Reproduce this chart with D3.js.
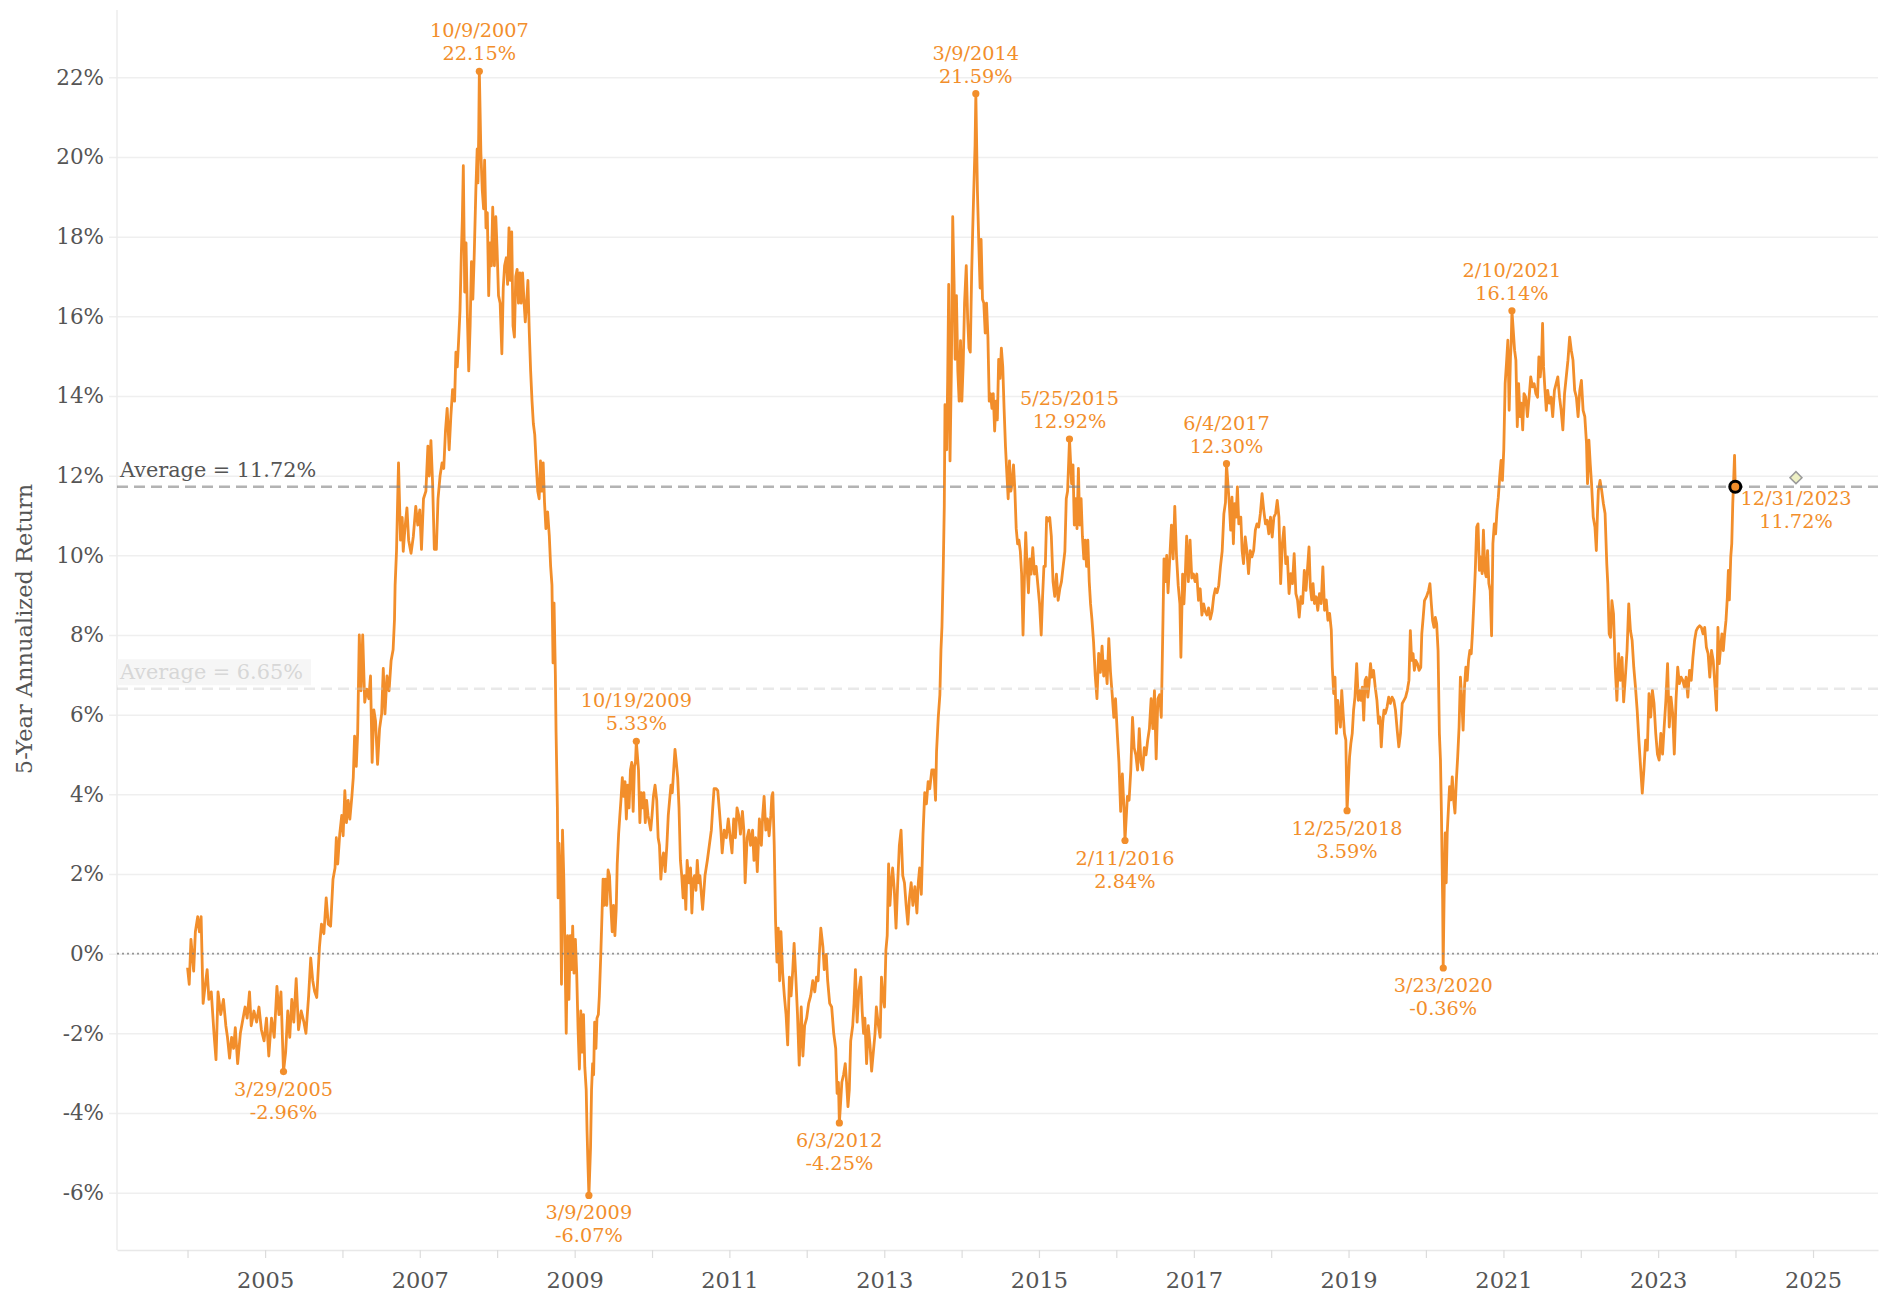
<!DOCTYPE html>
<html><head><meta charset="utf-8">
<script src="https://cdn.jsdelivr.net/npm/d3@7"></script>
<style>html,body{margin:0;padding:0;background:#fff;} svg{display:block;}</style>
</head><body><svg id="chart" width="1888" height="1296"></svg>
<script>
// ---- data: decimal year of each observation and its 5-year annualized return (%)
const years = [
2004.000,2004.022,2004.044,2004.079,2004.101,2004.131,2004.153,2004.175,2004.201,2004.223,
2004.253,2004.275,2004.306,2004.341,2004.367,2004.393,2004.428,2004.463,2004.494,2004.515,
2004.542,2004.568,2004.594,2004.616,2004.646,2004.681,2004.716,2004.742,2004.769,2004.799,
2004.821,2004.856,2004.891,2004.921,2004.952,2004.987,2005.018,2005.048,2005.083,2005.118,
2005.153,2005.179,2005.205,2005.238,2005.266,2005.293,2005.319,2005.345,2005.371,2005.402,
2005.432,2005.467,2005.502,2005.528,2005.563,2005.590,2005.616,2005.642,2005.668,2005.703,
2005.729,2005.760,2005.790,2005.817,2005.847,2005.878,2005.904,2005.921,2005.939,2005.965,
2005.991,2006.009,2006.031,2006.052,2006.074,2006.096,2006.122,2006.140,2006.157,2006.179,
2006.197,2006.218,2006.240,2006.262,2006.288,2006.314,2006.341,2006.363,2006.384,2006.406,
2006.428,2006.454,2006.480,2006.507,2006.528,2006.550,2006.576,2006.603,2006.629,2006.655,
2006.673,2006.681,2006.699,2006.725,2006.751,2006.773,2006.786,2006.808,2006.834,2006.856,
2006.887,2006.917,2006.948,2006.974,2007.000,2007.022,2007.048,2007.079,2007.105,2007.122,
2007.144,2007.166,2007.188,2007.214,2007.236,2007.262,2007.288,2007.310,2007.332,2007.354,
2007.380,2007.402,2007.424,2007.450,2007.467,2007.485,2007.502,2007.520,2007.537,2007.550,
2007.563,2007.581,2007.598,2007.616,2007.633,2007.651,2007.668,2007.686,2007.703,2007.725,
2007.742,2007.752,2007.762,2007.770,2007.790,2007.808,2007.825,2007.838,2007.856,2007.873,
2007.891,2007.908,2007.926,2007.943,2007.965,2007.983,2008.000,2008.018,2008.039,2008.061,
2008.079,2008.096,2008.118,2008.135,2008.153,2008.170,2008.188,2008.205,2008.223,2008.240,
2008.258,2008.275,2008.293,2008.310,2008.328,2008.345,2008.363,2008.380,2008.397,2008.415,
2008.432,2008.450,2008.467,2008.485,2008.502,2008.524,2008.542,2008.559,2008.576,2008.594,
2008.611,2008.629,2008.651,2008.673,2008.690,2008.707,2008.721,2008.734,2008.751,2008.760,
2008.777,2008.786,2008.799,2008.817,2008.830,2008.843,2008.860,2008.873,2008.891,2008.908,
2008.926,2008.943,2008.961,2008.974,2008.991,2009.009,2009.026,2009.044,2009.061,2009.079,
2009.096,2009.114,2009.131,2009.149,2009.160,2009.172,2009.184,2009.205,2009.218,2009.232,
2009.245,2009.258,2009.275,2009.288,2009.306,2009.319,2009.336,2009.354,2009.367,2009.380,
2009.397,2009.415,2009.432,2009.450,2009.467,2009.485,2009.502,2009.520,2009.537,2009.550,
2009.568,2009.581,2009.598,2009.616,2009.633,2009.651,2009.668,2009.686,2009.703,2009.721,
2009.738,2009.756,2009.773,2009.786,2009.797,2009.825,2009.843,2009.860,2009.878,2009.895,
2009.913,2009.930,2009.948,2009.965,2009.983,2010.000,2010.018,2010.039,2010.061,2010.079,
2010.096,2010.114,2010.131,2010.149,2010.170,2010.192,2010.210,2010.227,2010.245,2010.262,
2010.280,2010.297,2010.314,2010.332,2010.349,2010.367,2010.384,2010.402,2010.419,2010.437,
2010.454,2010.476,2010.498,2010.515,2010.533,2010.550,2010.568,2010.585,2010.603,
2010.619,2010.654,2010.685,2010.715,2010.741,2010.767,2010.785,2010.802,2010.829,2010.850,
2010.872,2010.890,2010.907,2010.933,2010.960,2010.986,2011.012,2011.034,2011.056,2011.078,
2011.099,2011.121,2011.143,2011.169,2011.187,2011.204,2011.230,2011.252,2011.274,2011.300,
2011.318,2011.340,2011.361,2011.388,2011.414,2011.431,2011.449,2011.471,2011.492,2011.514,
2011.536,2011.549,2011.562,2011.580,2011.597,2011.615,2011.632,2011.650,2011.667,2011.689,
2011.711,2011.733,2011.754,2011.776,2011.798,2011.820,2011.837,2011.859,2011.881,2011.903,
2011.929,2011.951,2011.973,2011.999,2012.025,2012.051,2012.078,2012.104,2012.126,2012.147,
2012.165,2012.182,2012.209,2012.226,2012.252,2012.270,2012.296,2012.322,2012.348,2012.374,
2012.392,2012.409,2012.421,2012.453,2012.475,2012.497,2012.514,2012.532,2012.549,2012.567,
2012.593,2012.610,2012.628,2012.650,2012.671,2012.698,2012.715,2012.733,2012.750,2012.772,
2012.794,2012.816,2012.837,2012.859,2012.881,2012.898,2012.925,2012.947,2012.964,2012.981,
2013.003,2013.021,2013.038,2013.056,2013.073,2013.091,2013.108,2013.130,2013.152,2013.174,
2013.195,2013.217,2013.239,2013.261,2013.283,2013.305,2013.326,2013.348,2013.370,2013.396,
2013.422,2013.440,2013.457,2013.479,2013.501,2013.523,2013.545,2013.567,2013.588,2013.615,
2013.641,2013.663,2013.676,2013.698,2013.719,2013.733,2013.746,2013.763,2013.776,2013.785,
2013.807,2013.820,2013.833,2013.850,2013.868,2013.885,2013.903,2013.916,2013.933,2013.951,
2013.968,2013.986,2014.003,2014.021,2014.038,2014.060,2014.078,2014.095,2014.112,2014.130,
2014.143,2014.156,2014.174,2014.184,2014.204,2014.222,2014.239,2014.252,2014.270,2014.287,
2014.305,2014.322,2014.340,2014.357,2014.374,2014.392,2014.409,2014.427,2014.444,2014.462,
2014.479,2014.497,2014.514,2014.532,2014.549,2014.567,2014.584,2014.602,2014.619,2014.636,
2014.654,2014.671,2014.689,2014.706,2014.724,2014.741,2014.759,2014.776,2014.794,2014.811,
2014.829,2014.846,2014.864,2014.881,2014.898,2014.920,2014.942,2014.964,2014.986,2015.008,
2015.029,2015.047,2015.064,2015.082,2015.099,2015.117,2015.139,2015.160,2015.182,2015.204,
2015.226,2015.248,2015.270,2015.291,2015.313,2015.335,2015.353,2015.370,2015.385,2015.395,
2015.422,2015.440,2015.457,2015.475,2015.492,2015.510,2015.527,2015.545,2015.562,2015.580,
2015.597,2015.615,2015.632,2015.650,2015.667,2015.685,2015.706,2015.728,2015.750,2015.772,
2015.794,2015.816,2015.837,2015.859,2015.881,2015.903,2015.925,2015.947,2015.968,2015.990,
2016.012,2016.034,2016.056,2016.078,2016.099,2016.112,2016.143,2016.165,2016.187,2016.209,
2016.230,2016.252,2016.274,2016.296,2016.318,2016.340,2016.361,2016.383,2016.405,2016.427,
2016.449,2016.471,2016.492,2016.514,2016.536,2016.558,2016.580,2016.602,2016.615,2016.632,
2016.650,2016.667,2016.689,2016.711,2016.733,2016.754,2016.776,2016.798,2016.820,2016.833,
2016.855,2016.872,2016.890,2016.907,2016.929,2016.951,2016.973,2016.995,2017.016,2017.038,
2017.060,2017.082,2017.104,2017.126,2017.147,2017.169,2017.191,2017.213,2017.235,2017.257,
2017.278,2017.300,2017.322,2017.344,2017.366,2017.388,2017.409,2017.422,
2017.458,2017.476,2017.493,2017.511,2017.528,2017.546,2017.563,2017.581,2017.607,2017.624,
2017.642,2017.664,2017.685,2017.707,2017.729,2017.751,2017.773,2017.795,2017.816,2017.838,
2017.860,2017.882,2017.904,2017.926,2017.947,2017.969,2017.991,2018.013,2018.035,2018.057,
2018.078,2018.100,2018.122,2018.144,2018.166,2018.188,2018.209,2018.231,2018.253,2018.275,
2018.297,2018.319,2018.340,2018.362,2018.384,2018.406,2018.428,2018.450,2018.471,2018.489,
2018.506,2018.524,2018.541,2018.559,2018.581,2018.602,2018.624,2018.646,2018.668,2018.690,
2018.712,2018.733,2018.755,2018.777,2018.790,2018.808,2018.825,2018.843,2018.860,2018.877,
2018.895,2018.912,2018.930,2018.947,2018.965,2018.975,2018.981,2019.013,2019.030,2019.048,
2019.065,2019.083,2019.105,2019.126,2019.144,2019.161,2019.179,2019.196,2019.214,2019.231,
2019.249,2019.266,2019.284,2019.301,2019.323,2019.345,2019.367,2019.388,2019.406,2019.423,
2019.441,2019.458,2019.476,2019.498,2019.519,2019.541,2019.563,2019.585,2019.607,2019.629,
2019.650,2019.672,2019.694,2019.716,2019.738,2019.760,2019.781,2019.799,2019.816,2019.834,
2019.851,2019.869,2019.891,2019.912,2019.934,2019.947,2019.965,2019.982,2020.008,2020.035,
2020.052,2020.070,2020.087,2020.105,2020.122,2020.139,2020.157,2020.174,2020.188,2020.201,
2020.208,2020.216,2020.223,2020.240,2020.249,2020.262,2020.275,2020.292,2020.305,2020.323,
2020.340,2020.358,2020.375,2020.393,2020.410,2020.428,2020.445,2020.463,2020.480,2020.498,
2020.515,2020.533,2020.550,2020.567,2020.585,2020.602,2020.620,2020.637,2020.655,2020.672,
2020.690,2020.707,2020.725,2020.742,2020.760,2020.777,2020.795,2020.812,2020.829,2020.847,
2020.864,2020.882,2020.899,2020.917,2020.934,2020.952,2020.969,2020.987,2021.004,2021.022,
2021.039,2021.057,2021.074,2021.091,2021.100,2021.110,2021.144,2021.161,2021.179,2021.196,
2021.214,2021.231,2021.249,2021.266,2021.288,2021.310,2021.332,2021.353,2021.375,2021.397,
2021.419,2021.441,2021.458,2021.476,2021.493,2021.506,2021.519,2021.537,2021.554,2021.572,
2021.594,2021.615,2021.637,2021.659,2021.681,2021.703,2021.725,2021.746,2021.768,2021.790,
2021.812,2021.834,2021.856,2021.877,2021.899,2021.921,2021.943,2021.965,2021.987,2022.008,
2022.030,2022.052,2022.074,2022.087,2022.105,2022.122,2022.139,2022.161,2022.183,2022.201,
2022.214,2022.227,2022.249,2022.270,2022.292,2022.314,2022.336,2022.349,2022.367,2022.384,
2022.402,2022.423,2022.445,2022.467,2022.489,2022.511,2022.533,2022.554,2022.576,2022.598,
2022.620,2022.642,2022.664,2022.685,2022.707,2022.729,2022.751,2022.773,2022.795,2022.816,
2022.838,2022.860,2022.882,2022.904,2022.926,2022.947,2022.969,2022.991,2023.013,2023.035,
2023.057,2023.078,2023.100,2023.122,2023.144,2023.166,2023.188,2023.209,2023.231,2023.253,
2023.275,2023.297,2023.319,2023.340,2023.362,2023.384,2023.406,2023.428,2023.450,2023.471,
2023.493,2023.515,2023.537,2023.559,2023.581,2023.602,2023.624,2023.646,2023.668,2023.690,
2023.712,2023.733,2023.755,2023.773,2023.790,2023.808,2023.825,2023.843,2023.860,2023.877,
2023.895,2023.908,2023.921,2023.939,2023.952,2023.965,2023.975,2023.988,2023.997
];
const returns = [
-0.35,-0.77,0.36,-0.44,0.55,0.93,0.55,0.93,-1.25,-0.87,
-0.40,-1.15,-0.96,-2.00,-2.66,-0.96,-1.53,-1.15,-1.81,-2.10,
-2.62,-2.10,-2.38,-1.86,-2.76,-2.00,-1.62,-1.34,-1.62,-0.96,
-1.81,-1.44,-1.72,-1.34,-1.91,-2.19,-1.62,-2.57,-1.62,-2.10,
-0.82,-1.53,-0.96,-2.96,-2.47,-1.44,-2.10,-1.15,-1.72,-0.63,
-1.91,-1.44,-1.72,-2.00,-1.06,-0.11,-0.68,-0.96,-1.10,0.17,
0.74,0.50,1.40,0.74,0.69,1.87,2.15,2.91,2.25,3.00,
3.47,2.96,4.09,3.29,3.85,3.38,3.95,4.42,5.46,4.70,
5.55,8.00,6.60,8.00,6.31,6.64,6.40,6.97,4.80,6.12,
5.84,4.75,5.65,6.02,7.16,6.02,6.97,6.60,7.35,7.63,
8.39,9.25,10.10,12.32,10.38,10.95,10.10,10.67,11.19,10.38,
10.05,10.48,11.23,10.76,11.14,10.15,11.42,11.61,12.74,11.99,
12.88,11.80,10.15,10.15,11.42,11.99,12.32,12.18,13.12,13.69,
12.65,13.50,14.16,13.87,15.10,14.73,15.39,16.14,17.56,18.41,
19.78,16.61,17.84,15.95,14.63,15.76,17.37,16.43,17.47,19.17,
20.20,19.35,20.58,22.15,20.10,19.17,18.70,19.92,18.22,18.60,
16.52,17.84,17.27,18.74,17.27,18.50,17.65,16.52,16.33,15.06,
16.71,17.27,17.47,16.80,18.22,16.90,18.12,15.76,15.48,17.00,
17.18,16.33,17.09,16.33,17.09,16.43,15.86,16.33,16.90,15.58,
14.63,13.87,13.31,13.03,12.37,11.61,11.42,12.37,11.61,12.32,
11.33,10.67,11.09,10.48,9.72,9.25,7.30,8.80,7.00,5.55,
3.66,1.40,2.77,1.78,-0.77,3.10,1.87,0.26,-2.00,0.45,
-1.15,0.45,-0.40,0.69,-0.49,0.36,-0.49,-1.91,-2.90,-1.44,
-2.47,-1.53,-2.85,-3.42,-4.46,-5.31,-6.07,-4.87,-3.42,-2.76,
-3.04,-1.72,-2.38,-1.62,-1.53,-1.06,-0.11,1.02,1.87,1.21,
1.87,1.21,2.10,1.96,1.21,0.55,1.21,0.45,1.11,2.25,
3.00,3.38,3.85,4.42,3.95,4.32,3.38,4.23,3.66,4.61,
4.80,3.57,4.70,4.80,5.33,4.61,3.29,4.04,3.66,4.04,
3.29,3.85,3.47,3.29,3.10,3.47,3.95,4.23,3.85,2.91,
2.72,1.87,2.34,2.53,2.06,2.72,3.47,3.85,4.23,4.04,
4.61,5.13,4.80,4.42,3.66,2.34,1.96,1.40,1.96,1.11,
2.34,1.78,2.15,1.02,1.87,1.96,1.59,2.34,1.78,
1.96,1.11,1.96,2.34,2.72,3.10,3.66,4.14,4.14,4.09,
3.57,3.10,2.53,3.10,2.91,3.38,2.91,2.53,3.38,2.91,
3.66,3.47,3.00,3.57,3.10,1.78,2.91,3.10,2.72,3.10,
2.34,2.91,2.06,3.38,2.72,3.47,3.95,3.10,3.38,2.96,
3.47,3.95,4.04,2.72,0.83,-0.21,0.64,-0.68,0.55,-0.49,
-1.06,-1.53,-2.29,-0.59,-1.06,-0.40,0.26,-0.59,-1.53,-2.80,
-1.34,-2.57,-1.81,-1.62,-1.25,-1.06,-0.68,-0.96,-0.59,-0.68,
0.08,0.64,0.17,-0.40,-0.02,-0.68,-1.25,-1.34,-2.00,-2.38,
-3.51,-3.23,-4.25,-3.23,-3.04,-2.76,-3.23,-3.84,-3.42,-2.19,
-1.81,-1.25,-0.40,-1.72,-0.96,-0.59,-1.44,-2.00,-1.62,-2.76,
-1.81,-2.29,-2.95,-2.47,-2.00,-1.34,-1.81,-2.10,-0.59,-1.06,
-1.34,0.08,0.45,2.25,1.21,1.78,2.15,1.59,0.64,1.78,
2.72,3.10,1.96,1.78,1.21,0.74,1.40,1.78,1.21,1.68,
1.02,1.78,2.15,1.49,3.00,4.04,3.76,4.32,4.14,4.61,
4.61,3.85,5.08,5.93,6.50,7.63,8.21,9.72,11.23,13.78,
12.65,14.44,16.80,12.37,14.73,18.50,16.80,14.92,16.52,14.63,
13.87,15.39,13.87,14.82,16.33,17.27,15.95,15.20,15.10,17.09,
18.13,19.07,20.30,21.59,19.17,17.84,16.71,17.93,16.43,16.33,
15.58,16.33,15.48,13.87,14.06,13.69,14.06,13.12,13.87,13.40,
14.92,14.44,15.20,14.73,13.69,12.74,12.08,11.42,12.37,11.61,
11.80,12.27,11.61,10.67,10.29,10.38,10.10,9.53,8.00,9.34,
10.57,9.72,9.06,9.91,9.53,10.19,9.53,9.72,9.25,8.78,
8.00,8.97,9.72,9.72,10.95,10.86,10.95,10.48,9.34,8.97,
9.53,8.87,9.16,9.34,9.72,10.10,11.42,11.61,12.37,12.92,
11.80,12.27,10.76,11.42,10.67,12.18,10.76,11.42,10.48,9.91,
10.38,9.72,10.38,9.34,8.78,8.39,7.82,6.97,6.40,7.54,
7.06,7.72,6.97,7.35,6.78,7.91,7.06,6.50,5.93,6.40,
5.55,4.80,3.57,4.51,3.66,2.84,3.95,3.85,4.61,5.93,
5.17,4.99,4.61,5.65,4.80,4.61,5.17,4.99,5.36,5.65,
6.40,5.65,6.60,4.89,6.40,6.50,5.93,8.39,9.91,9.34,
10.00,9.06,9.91,10.76,9.91,11.23,10.00,9.25,8.78,7.44,
9.53,8.78,9.53,10.48,9.34,10.38,9.43,9.53,9.34,9.53,
8.87,9.16,8.50,8.78,8.59,8.50,8.68,8.40,8.59,8.97,
9.16,9.06,9.25,9.72,10.10,11.04,11.33,12.30,
11.30,10.63,11.46,10.29,11.30,10.96,11.72,10.79,10.96,10.12,
9.79,10.46,10.12,9.54,10.12,9.96,10.12,10.63,10.79,10.71,
11.05,11.55,11.13,10.79,10.88,10.54,10.96,10.46,10.96,11.05,
11.38,10.96,9.29,10.29,10.71,9.79,9.96,9.04,9.54,9.29,
10.04,9.04,8.88,8.45,8.96,8.79,9.62,9.12,9.71,10.21,
9.21,8.88,9.29,8.79,8.96,8.62,9.04,8.79,9.71,8.62,
8.88,8.37,8.54,8.12,7.19,6.53,6.94,5.53,6.36,6.03,
5.69,6.61,6.03,5.53,5.36,4.19,3.59,4.94,5.28,5.53,
6.11,6.44,7.28,6.36,6.61,6.36,6.69,5.86,6.86,6.94,
6.44,6.78,7.28,6.94,7.11,6.69,6.36,5.78,5.94,5.19,
5.78,6.11,6.03,6.19,6.44,6.28,6.44,6.36,6.11,5.61,
5.19,5.53,6.28,6.36,6.44,6.61,6.86,8.11,7.36,7.53,
7.11,7.36,7.28,7.11,7.19,8.03,8.44,8.86,8.96,9.12,
9.29,8.79,8.36,8.19,8.44,8.28,7.61,5.53,4.86,3.44,
2.44,1.36,-0.36,2.19,3.03,1.78,3.03,3.69,4.19,3.86,
4.44,3.86,3.53,4.36,4.94,5.69,6.94,6.36,5.61,6.69,
7.19,6.86,7.36,7.61,7.53,8.11,8.86,9.62,10.71,10.79,
9.62,9.96,9.54,10.63,9.62,9.46,10.12,9.29,9.12,7.98,
10.29,10.79,10.54,11.13,11.46,11.97,12.38,11.88,12.64,14.31,
14.81,15.40,13.64,14.98,15.31,16.14,15.15,14.90,13.23,14.31,
13.48,13.82,13.15,14.06,13.97,13.48,13.97,14.48,14.23,14.31,
14.06,13.97,14.98,14.48,14.90,15.82,14.73,14.14,13.64,14.14,
13.82,13.97,13.48,14.14,14.31,14.48,13.97,13.64,13.15,14.06,
14.48,14.90,15.48,15.15,14.90,14.14,13.97,13.48,14.14,14.39,
13.64,13.48,12.80,11.80,12.89,12.30,11.80,10.96,10.71,10.12,
10.96,11.63,11.88,11.63,11.30,11.05,9.79,9.29,8.03,7.94,
8.86,8.53,7.19,6.36,7.53,6.86,7.44,6.32,6.94,7.61,
8.78,8.11,7.86,7.19,6.69,6.11,5.36,4.69,4.03,4.61,
5.36,5.11,6.53,5.94,6.61,6.28,5.53,5.01,4.86,5.53,
5.01,5.69,6.36,7.28,5.69,6.44,6.03,5.01,6.36,7.19,
6.78,6.94,6.86,6.69,6.94,6.44,7.11,6.86,7.44,7.86,
8.11,8.19,8.23,8.19,8.03,8.19,7.69,7.53,6.94,7.61,
7.36,6.78,6.11,8.19,7.28,7.69,8.03,7.61,8.03,8.36,
8.95,9.62,8.88,9.96,10.29,11.30,11.80,12.51,11.72
];

// labelled highs / lows
const annoDates  = ["3/29/2005","10/9/2007","3/9/2009","10/19/2009","6/3/2012","3/9/2014","5/25/2015","2/11/2016","6/4/2017","12/25/2018","3/23/2020","2/10/2021","12/31/2023"];
const annoValues = [-2.96,22.15,-6.07,5.33,-4.25,21.59,12.92,2.84,12.30,3.59,-0.36,16.14,11.72];
const annoKinds  = ["low","high","low","high","low","high","high","low","high","low","low","high","last"];

// reference lines
const averageValues = [11.72, 6.65];
const averageEmphasis = ["strong","faint"];

// marker (diamond)
const markerYear = 2024.78;
const markerValue = 11.95;

// axes
const yTickValues = [-6,-4,-2,0,2,4,6,8,10,12,14,16,18,20,22];
const xTickYears = [2004,2005,2006,2007,2008,2009,2010,2011,2012,2013,2014,2015,2016,2017,2018,2019,2020,2021,2022,2023,2024,2025];
const xLabelYears = [2005,2007,2009,2011,2013,2015,2017,2019,2021,2023,2025];
const yAxisTitle = "5-Year Annualized Return";
const xDomainYears = [2003.088, 2025.84];
const yDomain = [-7.44, 23.69];

if (years.length !== returns.length) throw new Error("length mismatch " + years.length + " vs " + returns.length);

// ---- drawing
const FONT = "'DejaVu Serif', serif";
const ORANGE = "#f28e2b";
const X0 = 117, X1 = 1878, Y0 = 10, Y1 = 1250;
const svg = d3.select("#chart");

const toDate = v => { const yr = Math.floor(v); const a = Date.UTC(yr,0,1), b = Date.UTC(yr+1,0,1); return new Date(a + (v - yr) * (b - a)); };
const parseDate = d3.utcParse("%m/%d/%Y");

const x = d3.scaleUtc().domain(xDomainYears.map(toDate)).range([X0, X1]);
const y = d3.scaleLinear().domain(yDomain).range([Y1, Y0]);

// y grid + labels
const gy = svg.append("g").attr("transform", `translate(${X0 - 8},0)`)
  .call(d3.axisLeft(y).tickValues(yTickValues).tickSize(-(X1 - X0 + 8)).tickPadding(5).tickFormat(d => d + "%"));
gy.attr("font-family", FONT).attr("font-size", 21.5);
gy.select(".domain").remove();
gy.selectAll(".tick line").attr("stroke", "#efefef").attr("stroke-width", 1.5);
gy.selectAll(".tick text").attr("fill", "#555");

// left border
svg.append("line").attr("x1", X0).attr("x2", X0).attr("y1", Y0).attr("y2", Y1)
  .attr("stroke", "#ececec").attr("stroke-width", 1.5);

// x axis
const gx = svg.append("g").attr("transform", `translate(0,${Y1})`)
  .call(d3.axisBottom(x).tickValues(xTickYears.map(v => toDate(v))).tickSize(8).tickSizeOuter(0).tickPadding(14)
    .tickFormat(d => xLabelYears.includes(d.getUTCFullYear()) ? String(d.getUTCFullYear()) : ""));
gx.attr("font-family", FONT).attr("font-size", 22.5);
gx.select(".domain").attr("stroke", "#e8e8e8").attr("stroke-width", 1.5);
gx.selectAll(".tick line").attr("stroke", "#dcdcdc").attr("stroke-width", 1.2);
gx.selectAll(".tick text").attr("fill", "#555");

// y title
svg.append("text").attr("transform", `translate(24,629) rotate(-90)`)
  .attr("text-anchor", "middle").attr("dominant-baseline", "central")
  .attr("font-family", FONT).attr("font-size", 22.5).attr("fill", "#555").text(yAxisTitle);

// average labels (faint one has a light box)
averageValues.forEach((v, i) => {
  const t = svg.append("text").attr("x", X0 + 3).attr("y", y(v) - 9.5)
    .attr("font-family", FONT).attr("font-size", 20.8)
    .attr("fill", averageEmphasis[i] === "strong" ? "#555" : "#d7d7d7")
    .text("Average = " + v.toFixed(2) + "%");
  if (averageEmphasis[i] === "faint") {
    const bb = t.node().getBBox();
    svg.insert("rect", () => t.node()).attr("x", X0).attr("y", bb.y - 1)
      .attr("width", bb.width + 10).attr("height", bb.height + 2).attr("fill", "#f6f6f6");
  }
});

// series
const data = years.map((yr, i) => [toDate(yr), returns[i]]);
svg.append("path").datum(data)
  .attr("d", d3.line().x(d => x(d[0])).y(d => y(d[1])))
  .attr("fill", "none").attr("stroke", ORANGE).attr("stroke-width", 2.8)
  .attr("stroke-linejoin", "round");

// reference lines over the series
averageValues.forEach((v, i) => {
  svg.append("line").attr("x1", X0).attr("x2", X1).attr("y1", y(v)).attr("y2", y(v))
    .attr("stroke", averageEmphasis[i] === "strong" ? "#808080" : "#c8c8c8")
    .attr("stroke-opacity", averageEmphasis[i] === "strong" ? 0.6 : 0.4)
    .attr("stroke-width", 2.6).attr("stroke-dasharray", "11,6");
});
svg.append("line").attr("x1", X0).attr("x2", X1).attr("y1", y(0)).attr("y2", y(0))
  .attr("stroke", "#777").attr("stroke-opacity", 0.75).attr("stroke-width", 1.6).attr("stroke-dasharray", "2,3");

// annotations
annoDates.forEach((s, i) => {
  const px = x(parseDate(s)), py = y(annoValues[i]);
  const lab = annoValues[i].toFixed(2) + "%";
  const g = svg.append("g").attr("font-family", FONT).attr("font-size", 19.3).attr("fill", ORANGE).attr("text-anchor", "middle");
  if (annoKinds[i] === "last") {
    svg.append("circle").attr("cx", px).attr("cy", py).attr("r", 5.5)
      .attr("fill", ORANGE).attr("stroke", "#000").attr("stroke-width", 3);
    const lx = x(toDate(markerYear));
    g.append("text").attr("x", lx).attr("y", py + 18).text(s);
    g.append("text").attr("x", lx).attr("y", py + 41).text(lab);
  } else {
    svg.append("circle").attr("cx", px).attr("cy", py).attr("r", 3.6).attr("fill", ORANGE);
    if (annoKinds[i] === "high") {
      g.append("text").attr("x", px).attr("y", py - 34).text(s);
      g.append("text").attr("x", px).attr("y", py - 11).text(lab);
    } else {
      g.append("text").attr("x", px).attr("y", py + 24).text(s);
      g.append("text").attr("x", px).attr("y", py + 47).text(lab);
    }
  }
});

// diamond marker
svg.append("path").attr("d", d3.symbol(d3.symbolSquare, 72)())
  .attr("transform", `translate(${x(toDate(markerYear))},${y(markerValue)}) rotate(45)`)
  .attr("fill", "#eef0c4").attr("stroke", "#9a9a9a").attr("stroke-width", 1.5);
</script></body></html>
